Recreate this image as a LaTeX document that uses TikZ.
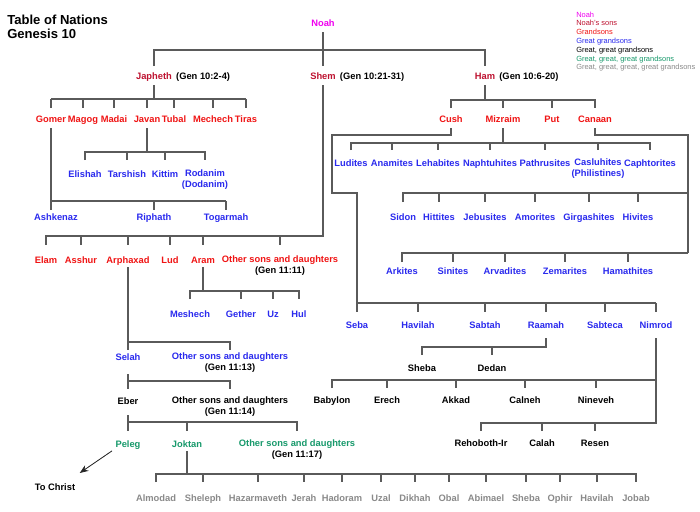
\documentclass[tikz,border=0pt]{standalone}
\usepackage{fontspec}
\setmainfont{Liberation Sans}
\usetikzlibrary{arrows.meta,calc}
\definecolor{noahc}{HTML}{F000F0}
\definecolor{sonc}{HTML}{BE1230}
\definecolor{grandc}{HTML}{F01414}
\definecolor{ggc}{HTML}{2A2AEE}
\definecolor{g3c}{HTML}{17996B}
\definecolor{g4c}{HTML}{8A8A8A}
\definecolor{linec}{HTML}{5A5A5A}
\newcommand{\vseg}[3]{\draw[conn] (#1.center |- 0,#2) -- (#1.center |- 0,#3);}
\newcommand{\mkticks}[3]{\foreach \nn in {#1}{\draw[conn] (\nn.center |- 0,#2) -- (\nn.center |- 0,#3);}}
\begin{document}
\begin{tikzpicture}[x=0.75pt,y=-0.75pt,
  conn/.style={draw=linec,line width=0.9pt},
  nm/.style={font=\bfseries\fontsize{7}{8.4}\selectfont,inner sep=1pt,anchor=base,yshift=-2.5pt},
  nmm/.style={font=\bfseries\fontsize{7}{8.4}\selectfont,inner sep=1pt,align=center},
  gl/.style={font=\bfseries\fontsize{7}{8.4}\selectfont,inner sep=1pt,anchor=base west,text=black},
  c0/.style={text=noahc}, c1/.style={text=sonc}, c2/.style={text=grandc},
  c3/.style={text=ggc}, c4/.style={text=black}, c5/.style={text=g3c}, c6/.style={text=g4c}]
\fill[white] (0,0) rectangle (700,511);
\useasboundingbox (0,0) rectangle (700,511);
% title and legend
\node[anchor=north west,inner sep=0pt,align=left,font=\bfseries\fontsize{9.8}{10.5}\selectfont] (title) at (7,14.5) {Table of Nations\\Genesis 10};
\node[anchor=north west,inner sep=0pt,align=left,font=\fontsize{5.6}{6.6}\selectfont] (legend) at (576,11.5)
 {\textcolor{noahc}{Noah}\\\textcolor{sonc}{Noah's sons}\\\textcolor{grandc}{Grandsons}\\\textcolor{ggc}{Great grandsons}\\Great, great grandsons\\\textcolor{g3c}{Great, great, great grandsons}\\\textcolor{g4c}{Great, great, great, great grandsons}};
% Noah and sons
\node[nm,c0] (noah) at (323,23) {Noah};
\node[nm,c1] (japheth) at (154,76) {Japheth};
\node[gl] (japhg) at ([xshift=0.8pt]japheth.base east) {(Gen 10:2-4)};
\node[nm,c1] (shem) at (323,76) {Shem};
\node[gl] (shemg) at ([xshift=0.8pt]shem.base east) {(Gen 10:21-31)};
\node[nm,c1] (ham) at (485,76) {Ham};
\node[gl] (hamg) at ([xshift=0.8pt]ham.base east) {(Gen 10:6-20)};
% Japheth line
\node[nm,c2] (gomer) at (51,119) {Gomer};
\node[nm,c2] (magog) at (83,119) {Magog};
\node[nm,c2] (madai) at (114,119) {Madai};
\node[nm,c2] (javan) at (147,119) {Javan};
\node[nm,c2] (tubal) at (174,119) {Tubal};
\node[nm,c2] (mechech) at (213,119) {Mechech};
\node[nm,c2] (tiras) at (246,119) {Tiras};
\node[nm,c3] (elishah) at (85,174) {Elishah};
\node[nm,c3] (tarshish) at (127,174) {Tarshish};
\node[nm,c3] (kittim) at (165,174) {Kittim};
\node[nmm,c3] (rodanim) at (205,179.5) {Rodanim\\(Dodanim)};
\node[nm,c3] (ashkenaz) at (56,217) {Ashkenaz};
\node[nm,c3] (riphath) at (154,217) {Riphath};
\node[nm,c3] (togarmah) at (226,217) {Togarmah};
% Shem line
\node[nm,c2] (elam) at (46,260) {Elam};
\node[nm,c2] (asshur) at (81,260) {Asshur};
\node[nm,c2] (arphaxad) at (128,260) {Arphaxad};
\node[nm,c2] (lud) at (170,260) {Lud};
\node[nm,c2] (aram) at (203,260) {Aram};
\node[nmm,c2] (osdA) at (280,265.5) {Other sons and daughters\\\textcolor{black}{(Gen 11:11)}};
\node[nm,c3] (meshech) at (190,314) {Meshech};
\node[nm,c3] (gether) at (241,314) {Gether};
\node[nm,c3] (uz) at (273,314) {Uz};
\node[nm,c3] (hul) at (299,314) {Hul};
\node[nm,c3] (selah) at (128,357) {Selah};
\node[nmm,c3] (osdB) at (230,362.5) {Other sons and daughters\\\textcolor{black}{(Gen 11:13)}};
\node[nm,c4] (eber) at (128,401) {Eber};
\node[nmm,c4] (osdC) at (230,406.5) {Other sons and daughters\\(Gen 11:14)};
\node[nm,c5] (peleg) at (128,444) {Peleg};
\node[nm,c5] (joktan) at (187,444) {Joktan};
\node[nmm,c5] (osdD) at (297,449.5) {Other sons and daughters\\\textcolor{black}{(Gen 11:17)}};
\node[nm,c4] (christ) at (55,487) {To Christ};
\node[nm,c6] (almodad) at (156,498) {Almodad};
\node[nm,c6] (sheleph) at (203,498) {Sheleph};
\node[nm,c6] (hazarmaveth) at (258,498) {Hazarmaveth};
\node[nm,c6] (jerah) at (304,498) {Jerah};
\node[nm,c6] (hadoram) at (342,498) {Hadoram};
\node[nm,c6] (uzal) at (381,498) {Uzal};
\node[nm,c6] (dikhah) at (415,498) {Dikhah};
\node[nm,c6] (obal) at (449,498) {Obal};
\node[nm,c6] (abimael) at (486,498) {Abimael};
\node[nm,c6] (shebaJ) at (526,498) {Sheba};
\node[nm,c6] (ophir) at (560,498) {Ophir};
\node[nm,c6] (havilahJ) at (597,498) {Havilah};
\node[nm,c6] (jobab) at (636,498) {Jobab};
% Ham line
\node[nm,c2] (cush) at (451,119) {Cush};
\node[nm,c2] (mizraim) at (503,119) {Mizraim};
\node[nm,c2] (put) at (552,119) {Put};
\node[nm,c2] (canaan) at (595,119) {Canaan};
\node[nm,c3] (ludites) at (351,163) {Ludites};
\node[nm,c3] (anamites) at (392,163) {Anamites};
\node[nm,c3] (lehabites) at (438,163) {Lehabites};
\node[nm,c3] (naphtuhites) at (490,163) {Naphtuhites};
\node[nm,c3] (pathrusites) at (545,163) {Pathrusites};
\node[nmm,c3] (casluhites) at (598,168.5) {Casluhites\\(Philistines)};
\node[nm,c3] (caphtorites) at (650,163) {Caphtorites};
\node[nm,c3] (sidon) at (403,217) {Sidon};
\node[nm,c3] (hittites) at (439,217) {Hittites};
\node[nm,c3] (jebusites) at (485,217) {Jebusites};
\node[nm,c3] (amorites) at (535,217) {Amorites};
\node[nm,c3] (girgashites) at (589,217) {Girgashites};
\node[nm,c3] (hivites) at (638,217) {Hivites};
\node[nm,c3] (arkites) at (402,271) {Arkites};
\node[nm,c3] (sinites) at (453,271) {Sinites};
\node[nm,c3] (arvadites) at (505,271) {Arvadites};
\node[nm,c3] (zemarites) at (565,271) {Zemarites};
\node[nm,c3] (hamathites) at (628,271) {Hamathites};
\node[nm,c3] (seba) at (357,325) {Seba};
\node[nm,c3] (havilah) at (418,325) {Havilah};
\node[nm,c3] (sabtah) at (485,325) {Sabtah};
\node[nm,c3] (raamah) at (546,325) {Raamah};
\node[nm,c3] (sabteca) at (605,325) {Sabteca};
\node[nm,c3] (nimrod) at (656,325) {Nimrod};
\node[nm,c4] (shebaR) at (422,368) {Sheba};
\node[nm,c4] (dedan) at (492,368) {Dedan};
\node[nm,c4] (babylon) at (332,400) {Babylon};
\node[nm,c4] (erech) at (387,400) {Erech};
\node[nm,c4] (akkad) at (456,400) {Akkad};
\node[nm,c4] (calneh) at (525,400) {Calneh};
\node[nm,c4] (nineveh) at (596,400) {Nineveh};
\node[nm,c4] (rehoboth) at (481,443) {Rehoboth-Ir};
\node[nm,c4] (calah) at (542,443) {Calah};
\node[nm,c4] (resen) at (595,443) {Resen};
% ---------- connectors ----------
\draw[conn] (noah.center |- 0,32) -- (shem.center |- 0,66);
\draw[conn] (japheth.center |- 0,66) -- (japheth.center |- 0,50) -- (ham.center |- 0,50) -- (ham.center |- 0,66);
% Japheth
\vseg{japheth}{85}{99}
\draw[conn] (gomer.center |- 0,99) -- (tiras.center |- 0,99);
\mkticks{gomer,magog,madai,javan,tubal,mechech,tiras}{99}{108}
\draw[conn] (gomer.center |- 0,128) -- (gomer.center |- 0,210);
\draw[conn] (gomer.center |- 0,201) -- (togarmah.center |- 0,201);
\mkticks{riphath,togarmah}{201}{210}
\vseg{javan}{128}{152}
\draw[conn] (elishah.center |- 0,160) |- (rodanim.center |- 0,152) -- (rodanim.center |- 0,160);
\mkticks{tarshish,kittim}{152}{160}
% Shem
\draw[conn] (shem.center |- 0,85) |- (elam.center |- 0,236) -- (elam.center |- 0,245);
\mkticks{asshur,arphaxad,lud,aram,osdA}{236}{245}
\vseg{aram}{267}{291}
\draw[conn] (meshech.center |- 0,299) |- (hul.center |- 0,291) -- (hul.center |- 0,299);
\mkticks{gether,uz}{291}{299}
\draw[conn] (arphaxad.center |- 0,267) -- (selah.center |- 0,350);
\draw[conn] (arphaxad.center |- 0,342) -| (osdB.center |- 0,350);
\draw[conn] (selah.center |- 0,374) -- (eber.center |- 0,389);
\draw[conn] (selah.center |- 0,381) -| (osdC.center |- 0,389);
\draw[conn] (eber.center |- 0,415) -- (peleg.center |- 0,431);
\draw[conn] (eber.center |- 0,422) -| (osdD.center |- 0,431);
\mkticks{joktan}{422}{431}
\draw[-{Stealth[length=6.5pt,width=5pt]},draw=black!85,fill=black,line width=0.6pt] ([shift={(-2,0)}]peleg.south west) -- ([shift={(3,-9)}]christ.north east);
\vseg{joktan}{451}{474}
\draw[conn] (almodad.center |- 0,482) |- (jobab.center |- 0,474) -- (jobab.center |- 0,482);
\mkticks{sheleph,hazarmaveth,jerah,hadoram,uzal,dikhah,obal,abimael,shebaJ,ophir,havilahJ}{474}{482}
% Ham
\vseg{ham}{85}{100}
\draw[conn] (cush.center |- 0,108) |- (canaan.center |- 0,100) -- (canaan.center |- 0,108);
\mkticks{mizraim,put}{100}{108}
\vseg{mizraim}{128}{143}
\draw[conn] (ludites.center |- 0,150) |- (caphtorites.center |- 0,143) -- (caphtorites.center |- 0,150);
\mkticks{anamites,lehabites,naphtuhites,pathrusites,casluhites}{143}{150}
\coordinate (cushA) at (332,135);
\draw[conn] (cush.center |- 0,128) |- (cushA) |- (seba.center |- 0,193) -- (seba.center |- 0,312);
\draw[conn] (seba.center |- 0,303) -- (nimrod.center |- 0,303);
\mkticks{havilah,sabtah,raamah,sabteca,nimrod}{303}{312}
\draw[conn] (raamah.center |- 0,338) |- (shebaR.center |- 0,347) -- (shebaR.center |- 0,355);
\mkticks{dedan}{347}{355}
\draw[conn] (nimrod.center |- 0,338) |- (rehoboth.center |- 0,423) -- (rehoboth.center |- 0,431);
\mkticks{calah,resen}{423}{431}
\draw[conn] (babylon.center |- 0,388) |- (nimrod.center |- 0,380);
\mkticks{erech,akkad,calneh,nineveh}{380}{388}
\coordinate (canA) at (688,135);
\coordinate (canB) at (688,193);
\coordinate (canC) at (688,253);
\draw[conn] (canaan.center |- 0,128) |- (canA) -- (canC);
\draw[conn] (sidon.center |- 0,202) |- (canB);
\mkticks{hittites,jebusites,amorites,girgashites,hivites}{193}{202}
\draw[conn] (arkites.center |- 0,262) |- (canC);
\mkticks{sinites,arvadites,zemarites,hamathites}{253}{262}
\end{tikzpicture}
\end{document}
